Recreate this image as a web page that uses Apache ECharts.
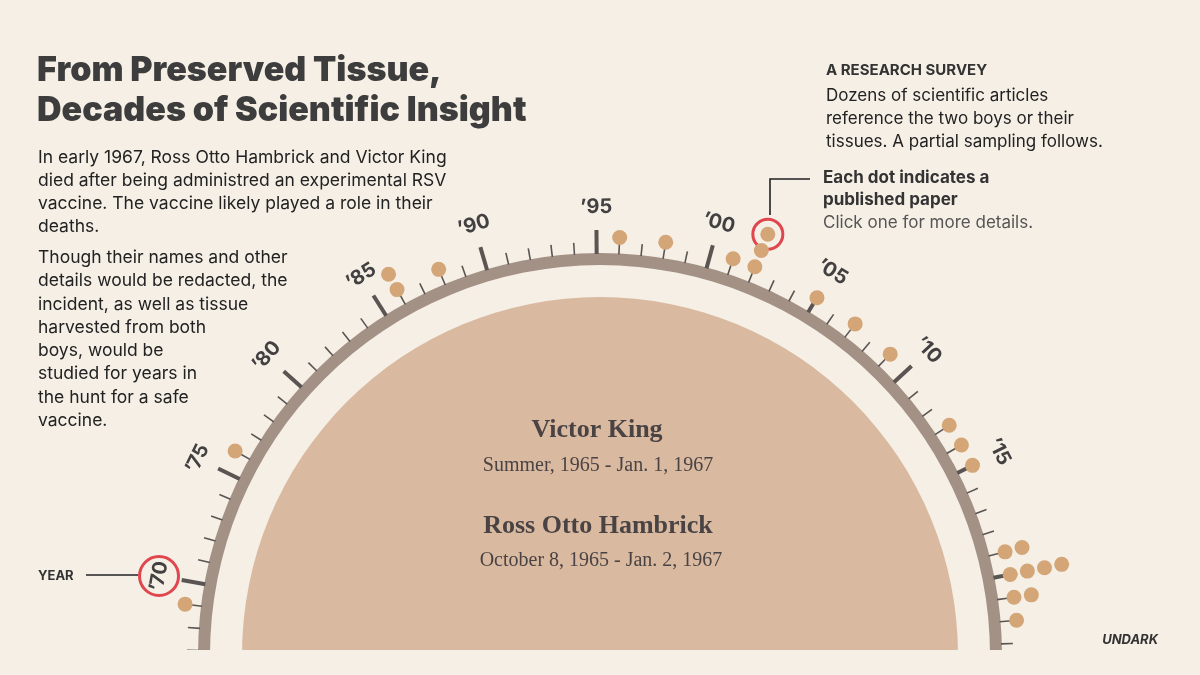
<!DOCTYPE html>
<html>
<head>
<meta charset="utf-8">
<script src="https://cdn.jsdelivr.net/npm/echarts@6/dist/echarts.min.js"></script>
<style>
  html, body { margin: 0; background: #F5EFE6; }
  #chart { width: 1200px; height: 675px; }
</style>
</head>
<body>
<div id="chart"></div>
<script>
// one entry per paper, by publication year
var paperYears = [1969, 1976, 1986, 1986, 1988, 1996, 1998, 2001, 2002, 2002, 2002,
  2005, 2007, 2009, 2013, 2014, 2015, 2019, 2019, 2020, 2020, 2020, 2020, 2021, 2021, 2022];
var majorYears = [1970, 1975, 1980, 1985, 1990, 1995, 2000, 2005, 2010, 2015, 2020];
var majorLabels = ['\u201970', '\u201975', '\u201980', '\u201985', '\u201990', '\u201995',
  '\u201900', '\u201905', '\u201910', '\u201915', ''];
var firstTick = 1967, lastTick = 2023;
var circledYear = 1970;
var circledPaper = 10;

var introText = [
  'In early 1967, Ross Otto Hambrick and Victor King',
  'died after being administred an experimental RSV',
  'vaccine. The vaccine likely played a role in their',
  'deaths.'
];
var introText2 = [
  'Though their names and other',
  'details would be redacted, the',
  'incident, as well as tissue',
  'harvested from both',
  'boys, would be',
  'studied for years in',
  'the hunt for a safe',
  'vaccine.'
];

var BG = '#F5EFE6', RED = '#E0464E';
var R_FILL = 358, R_IN = 390, R_OUT = 402;
var DOT_R0 = 418, DOT_STEP = 17.5, LABEL_R = 448;

// stack dots outward when several papers share a year
var seen = {};
var dotData = paperYears.map(function (y) {
  seen[y] = (seen[y] || 0) + 1;
  return [DOT_R0 + DOT_STEP * (seen[y] - 1), y];
});

var tickData = [];
for (var t = firstTick; t <= lastTick; t++) tickData.push([R_OUT, t]);

var chart = echarts.init(document.getElementById('chart'));

chart.setOption({
  backgroundColor: BG,
  animation: false,
  polar: { center: [600, 655], radius: 480 },
  radiusAxis: { min: 0, max: 480, show: false },
  angleAxis: { type: 'value', min: 1966.8, max: 2023.5, startAngle: 180, endAngle: 0, clockwise: true, show: false },
  series: [
    {
      // inner disc and ring
      type: 'custom', coordinateSystem: 'polar', silent: true, z: 1,
      data: [[0, 1995]],
      renderItem: function (params) {
        var cs = params.coordSys;
        return {
          type: 'group',
          children: [
            { type: 'sector', shape: { cx: cs.cx, cy: cs.cy, r0: 0, r: R_FILL, startAngle: Math.PI, endAngle: Math.PI * 2 },
              style: { fill: '#D9B9A0' } },
            { type: 'sector', shape: { cx: cs.cx, cy: cs.cy, r0: R_IN, r: R_OUT, startAngle: Math.PI, endAngle: Math.PI * 2 },
              style: { fill: '#A39185' } }
          ]
        };
      }
    },
    {
      // year ticks
      type: 'custom', coordinateSystem: 'polar', silent: true, z: 2,
      data: tickData,
      renderItem: function (params, api) {
        var year = api.value(1);
        var major = majorYears.indexOf(year) >= 0;
        var a = api.coord([R_OUT - 1, year]);
        var b = api.coord([R_OUT + (major ? 23 : 11), year]);
        return {
          type: 'line',
          shape: { x1: a[0], y1: a[1], x2: b[0], y2: b[1] },
          style: { stroke: '#5A5553', lineWidth: major ? 4 : 1.6 }
        };
      }
    },
    {
      // tick labels, turned along the arc
      type: 'custom', coordinateSystem: 'polar', silent: true, z: 3,
      data: majorYears.map(function (y, i) { return [LABEL_R, y, i]; }),
      renderItem: function (params, api) {
        var cs = params.coordSys;
        var year = api.value(1);
        var p = api.coord([LABEL_R, year]);
        var phi = Math.atan2(cs.cy - p[1], p[0] - cs.cx);
        var kids = [{
          type: 'text', x: p[0], y: p[1], rotation: phi - Math.PI / 2,
          style: { text: majorLabels[api.value(2)], x: 0, y: 0, align: 'center', verticalAlign: 'middle',
            font: 'bold 20px Inter', fill: '#424040' }
        }];
        if (year === circledYear) {
          kids.push({ type: 'circle', shape: { cx: p[0], cy: p[1], r: 19.5 },
            style: { fill: 'none', stroke: RED, lineWidth: 3 } });
        }
        return { type: 'group', children: kids };
      }
    },
    {
      type: 'scatter', coordinateSystem: 'polar', z: 4, clip: false, silent: true,
      data: [dotData[circledPaper]],
      symbolSize: 30,
      itemStyle: { color: BG, borderColor: RED, borderWidth: 3, opacity: 1 }
    },
    {
      type: 'scatter', coordinateSystem: 'polar', z: 5, clip: false,
      data: dotData,
      symbolSize: 15,
      itemStyle: { color: '#D4A677', opacity: 1 }
    }
  ],
  graphic: [
    { type: 'rect', z: 100, shape: { x: 0, y: 650, width: 1200, height: 25 }, style: { fill: BG } },
    { type: 'text', z: 100, style: { text: 'From Preserved Tissue,\nDecades of Scientific Insight', x: 37, y: 51,
      font: '900 34px Inter', fill: '#3D3D3D', lineHeight: 40 } },
    { type: 'text', z: 100, style: { text: introText.join('\n'), x: 38, y: 146, font: '17.5px Inter', fill: '#222', lineHeight: 23 } },
    { type: 'text', z: 100, style: { text: introText2.join('\n'), x: 38, y: 246, font: '17.5px Inter', fill: '#222', lineHeight: 23.3 } },
    { type: 'text', z: 100, style: { text: 'A RESEARCH SURVEY', x: 826, y: 63, font: 'bold 15px Inter', fill: '#333' } },
    { type: 'text', z: 100, style: { text: 'Dozens of scientific articles\nreference the two boys or their\ntissues. A partial sampling follows.',
      x: 826, y: 84, font: '17px Inter', fill: '#222', lineHeight: 23 } },
    { type: 'text', z: 100, style: { text: 'Each dot indicates a\npublished paper', x: 823, y: 167,
      font: 'bold 17px Inter', fill: '#333', lineHeight: 22 } },
    { type: 'text', z: 100, style: { text: 'Click one for more details.', x: 823, y: 214, font: '17px Inter', fill: '#555' } },
    { type: 'polyline', z: 100, shape: { points: [[770, 215], [770, 179], [810, 179]] }, style: { stroke: '#222', lineWidth: 1.6, fill: 'none' } },
    { type: 'text', z: 100, style: { text: 'YEAR', x: 38, y: 576, verticalAlign: 'middle', font: 'bold 13px Inter', fill: '#333' } },
    { type: 'line', z: 100, shape: { x1: 86, y1: 575, x2: 138, y2: 575 }, style: { stroke: '#222', lineWidth: 1.6 } },
    { type: 'text', z: 100, style: { text: 'Victor King', x: 597, y: 430, align: 'center', verticalAlign: 'middle',
      font: 'bold 26px "Liberation Serif"', fill: '#4A4343' } },
    { type: 'text', z: 100, style: { text: 'Summer, 1965 - Jan. 1, 1967', x: 598, y: 466, align: 'center', verticalAlign: 'middle',
      font: '20px "Liberation Serif"', fill: '#4A4343' } },
    { type: 'text', z: 100, style: { text: 'Ross Otto Hambrick', x: 598, y: 526, align: 'center', verticalAlign: 'middle',
      font: 'bold 26px "Liberation Serif"', fill: '#4A4343' } },
    { type: 'text', z: 100, style: { text: 'October 8, 1965 - Jan. 2, 1967', x: 601, y: 561, align: 'center', verticalAlign: 'middle',
      font: '20px "Liberation Serif"', fill: '#4A4343' } },
    { type: 'text', z: 100, style: { text: 'UNDARK', x: 1158, y: 640, align: 'right', verticalAlign: 'middle',
      font: 'italic bold 13px Inter', fill: '#333' } }
  ]
});
</script>
</body>
</html>
